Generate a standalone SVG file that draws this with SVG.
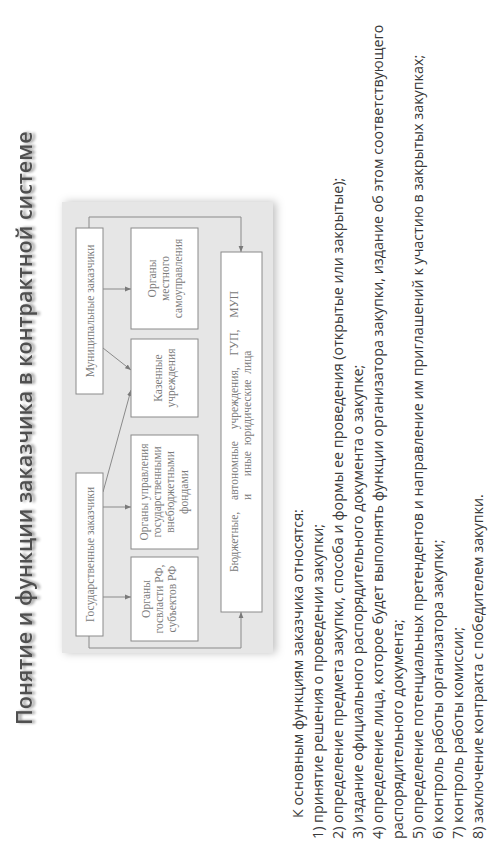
<svg xmlns="http://www.w3.org/2000/svg" width="498" height="847" viewBox="0 0 498 847">
<defs>
<style>
.box{fill:#fff;stroke:#8a8a8a;stroke-width:1}
.bt{font-family:"Liberation Serif","Times New Roman",serif;font-size:11.5px;fill:#7a7a7a;text-anchor:middle}
.ln{fill:none;stroke:#8a8a8a;stroke-width:1}
.lt{font-family:"Open Sans","Noto Sans",sans-serif;font-size:14.3px;fill:#383838}
</style>
<marker id="ah" viewBox="0 0 10 10" refX="10" refY="5" markerWidth="6" markerHeight="6" orient="auto" markerUnits="userSpaceOnUse">
<path d="M0,1 L10,5 L0,9 z" fill="#7a7a7a"/>
</marker>
<filter id="tsh" x="-5%" y="-50%" width="110%" height="200%">
<feGaussianBlur in="SourceAlpha" stdDeviation="1.6"/>
<feOffset dx="0" dy="3" result="b"/>
<feComponentTransfer><feFuncA type="linear" slope="0.45"/></feComponentTransfer>
<feMerge><feMergeNode/><feMergeNode in="SourceGraphic"/></feMerge>
</filter>
<filter id="psh" x="-10%" y="-20%" width="120%" height="140%">
<feDropShadow dx="0" dy="3" stdDeviation="4" flood-color="#000" flood-opacity="0.25"/>
</filter>
</defs>
<rect width="498" height="847" fill="#fff"/>
<g transform="matrix(0,-1,1,0,0,847)">
<text id="title" x="122" y="32" font-family="'Open Sans','Noto Sans',sans-serif" font-size="21.5px" font-weight="600" fill="#505050" filter="url(#tsh)">Понятие и функции заказчика в контрактной системе</text>
<rect id="panel" x="194" y="62" width="451" height="211" fill="#e6e6e6" filter="url(#psh)"/>
<g id="connectors">
<path class="ln" d="M619,89 H630 V241 H595" marker-end="url(#ah)"/>
<path class="ln" d="M211,89 H199 V241 H235" marker-end="url(#ah)"/>
<path class="ln" d="M558,103 V131" marker-end="url(#ah)"/>
<path class="ln" d="M499,103 L477,131" marker-end="url(#ah)"/>
<path class="ln" d="M355,103 L457,131" marker-end="url(#ah)"/>
<path class="ln" d="M340,103 V131" marker-end="url(#ah)"/>
<path class="ln" d="M250,103 V131" marker-end="url(#ah)"/>
</g>
<g id="municipal">
<rect class="box" x="453" y="76" width="166" height="27"/>
<text class="bt" x="536" y="93.5">Муниципальные заказчики</text>
</g>
<g id="state">
<rect class="box" x="211" y="76" width="163" height="27"/>
<text class="bt" x="292.5" y="93.5">Государственные заказчики</text>
</g>
<g id="local">
<rect class="box" x="518" y="131" width="101" height="67"/>
<text class="bt" x="568.5" y="155.5">Органы</text>
<text class="bt" x="568.5" y="168.5">местного</text>
<text class="bt" x="568.5" y="181.5">самоуправления</text>
</g>
<g id="treasury">
<rect class="box" x="430" y="131" width="78" height="67"/>
<text class="bt" x="469" y="161.5">Казенные</text>
<text class="bt" x="469" y="174.5">учреждения</text>
</g>
<g id="funds">
<rect class="box" x="298" y="131" width="114" height="67"/>
<text class="bt" x="355" y="148">Органы управления</text>
<text class="bt" x="355" y="161">государственными</text>
<text class="bt" x="355" y="174">внебюджетными</text>
<text class="bt" x="355" y="188">фондами</text>
</g>
<g id="authorities">
<rect class="box" x="206" y="131" width="84" height="67"/>
<text class="bt" x="248" y="150">Органы</text>
<text class="bt" x="248" y="163">госвласти РФ,</text>
<text class="bt" x="248" y="176">субъектов РФ</text>
</g>
<g id="budget">
<rect class="box" x="235" y="221" width="360" height="41"/>
<text class="bt" x="275" y="238" style="text-anchor:start" word-spacing="9">Бюджетные, автономные учреждения, ГУП, МУП</text>
<text class="bt" x="347" y="251" style="text-anchor:start" xml:space="preserve" word-spacing="3">и   иные юридические лица</text>
</g>
<g id="list">
<text class="lt" x="29" y="303">К основным функциям заказчика относятся:</text>
<text class="lt" x="8" y="323">1) принятие решения о проведении закупки;</text>
<text class="lt" x="8" y="343">2) определение предмета закупки, способа и формы ее проведения (открытые или закрытые);</text>
<text class="lt" x="8" y="363">3) издание официального распорядительного документа о закупке;</text>
<text class="lt" x="8" y="383">4) определение лица, которое будет выполнять функции организатора закупки, издание об этом соответствующего</text>
<text class="lt" x="8" y="403">распорядительного документа;</text>
<text class="lt" x="8" y="423">5) определение потенциальных претендентов и направление им приглашений к участию в закрытых закупках;</text>
<text class="lt" x="8" y="443">6) контроль работы организатора закупки;</text>
<text class="lt" x="8" y="463">7) контроль работы комиссии;</text>
<text class="lt" x="8" y="483">8) заключение контракта с победителем закупки.</text>
</g>
</g>
</svg>
